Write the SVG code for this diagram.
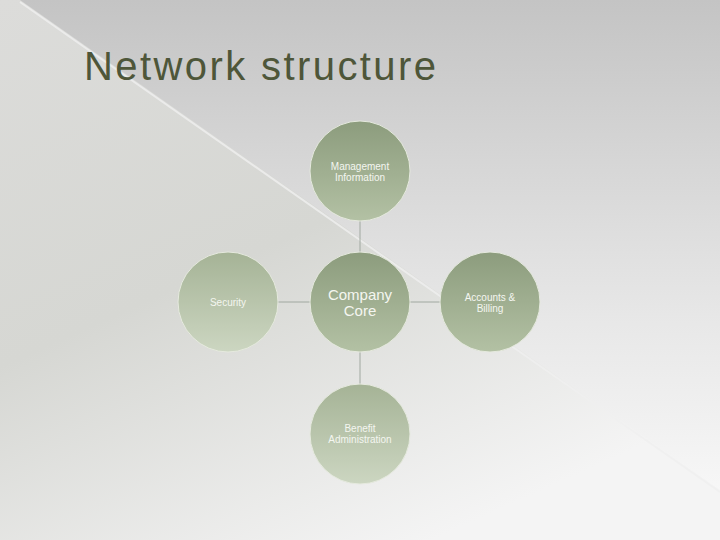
<svg xmlns="http://www.w3.org/2000/svg" width="720" height="540" viewBox="0 0 720 540">
<defs>
<linearGradient id="bg" x1="0" y1="0" x2="0" y2="1"><stop offset="0" stop-color="#c4c4c4"/><stop offset="0.6" stop-color="#e8e8e8"/><stop offset="1" stop-color="#fbfbfb"/></linearGradient>
<linearGradient id="bg2" x1="0" y1="0" x2="0.6" y2="1"><stop offset="0" stop-color="#dcdcda"/><stop offset="0.5" stop-color="#d6d7d3"/><stop offset="1" stop-color="#f4f4f4"/></linearGradient>
<linearGradient id="node" x1="0" y1="0" x2="0" y2="1"><stop offset="0" stop-color="#8c9c7d"/><stop offset="1" stop-color="#b3c1a4"/></linearGradient>
<linearGradient id="node2" x1="0" y1="0" x2="0" y2="1"><stop offset="0" stop-color="#a5b396"/><stop offset="1" stop-color="#ccd6c1"/></linearGradient>
<style>
.n{stroke:#e6eadf;stroke-width:1}
.t{font-family:"Liberation Sans",Arial,sans-serif;fill:#f4f6f0;text-anchor:middle}
.c line{stroke:#a0a8a0;stroke-width:1}
</style>
</defs>
<rect width="720" height="540" fill="url(#bg)"/>
<polygon points="0,0 20,0 720,490 720,540 0,540" fill="url(#bg2)"/>
<line x1="20" y1="2" x2="720" y2="492" stroke="#f0f0f0" stroke-width="2" opacity="0.8"/>
<text x="84" y="80" font-family="'Liberation Sans',Arial,sans-serif" font-size="40" textLength="352" fill="#4e5639">Network structure</text>
<g class="c" id="connectors">
<line x1="360" y1="221" x2="360" y2="252"/>
<line x1="278" y1="302" x2="310" y2="302"/>
<line x1="410" y1="302" x2="440" y2="302"/>
<line x1="360" y1="352" x2="360" y2="384"/>
</g>
<g id="mgmt"><circle class="n" cx="360" cy="171" r="50" fill="url(#node)"/><text class="t" x="360" y="170" font-size="10">Management</text><text class="t" x="360" y="181" font-size="10">Information</text></g>
<g id="security"><circle class="n" cx="228" cy="302" r="50" fill="url(#node2)"/><text class="t" x="228" y="306" font-size="10">Security</text></g>
<g id="core"><circle class="n" cx="360" cy="302" r="50" fill="url(#node)"/><text class="t" x="360" y="300" font-size="15">Company</text><text class="t" x="360" y="316" font-size="15">Core</text></g>
<g id="accounts"><circle class="n" cx="490" cy="302" r="50" fill="url(#node)"/><text class="t" x="490" y="301" font-size="10">Accounts &amp;</text><text class="t" x="490" y="312" font-size="10">Billing</text></g>
<g id="benefit"><circle class="n" cx="360" cy="434" r="50" fill="url(#node2)"/><text class="t" x="360" y="432" font-size="10">Benefit</text><text class="t" x="360" y="443" font-size="10">Administration</text></g>
</svg>
